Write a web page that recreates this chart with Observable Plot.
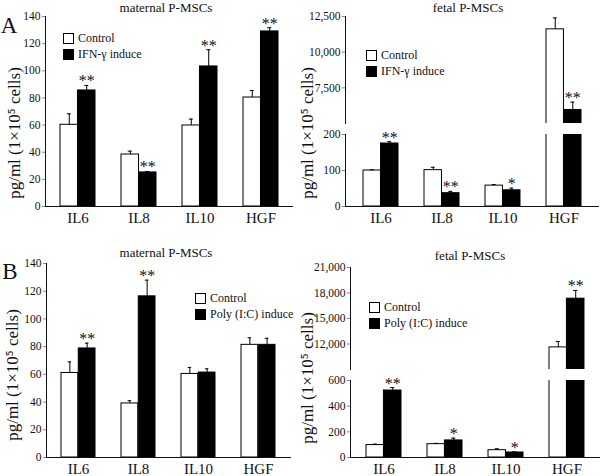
<!DOCTYPE html>
<html>
<head>
<meta charset="utf-8">
<script src="https://cdn.jsdelivr.net/npm/d3@7"></script>
<script src="https://cdn.jsdelivr.net/npm/@observablehq/plot@0.6"></script>
<style>
  html, body { margin: 0; padding: 0; background: white; }
  #fig { position: relative; width: 600px; height: 476px; overflow: hidden; font-family: "Liberation Serif", "Times New Roman", serif; color: #111; }
  #fig svg { position: absolute; font-family: "Liberation Serif", "Times New Roman", serif !important; }
  #fig svg text { font-family: "Liberation Serif", "Times New Roman", serif !important; fill: #111; }
  .lbl { position: absolute; white-space: nowrap; line-height: 1; }
  .ttl { font-size: 13px; transform: translate(-50%, -50%); }
  .letter { font-size: 23px; transform: translate(-50%, -50%); }
  .ylab { font-size: 17px; transform: translate(-50%, -50%) rotate(-90deg); }
  .leg { position: absolute; font-size: 12px; line-height: 1; }
  .leg .row { display: flex; align-items: center; height: 16px; }
  .leg .sw { width: 9px; height: 9px; border: 1px solid #000; margin-right: 4px; box-sizing: content-box; }
  #fig g[aria-label^="x-axis"] text { font-size: 15px; }
  #fig g[aria-label^="y-axis"] text { font-size: 11.5px; }
  [aria-label*="axis"] line, [aria-label*="axis"] path { stroke: #8a8a8a; }
</style>
</head>
<body>
<div id="fig"></div>
<script>
// ---------- data ----------
const categories = ["IL6", "IL8", "IL10", "HGF"];
const groups = ["Control", "Induced"];

// A, maternal P-MSCs (IFN-γ)
const aMatControl    = [60.2, 38.3, 59.7, 80.3];
const aMatControlErr = [8.1, 2.5, 4.7, 5.2];
const aMatInduced    = [85.5, 25.1, 103.2, 129];
const aMatInducedErr = [3.7, 0.7, 12.3, 2.7];
const aMatStars      = ["**", "**", "**", "**"];

// A, fetal P-MSCs (IFN-γ)
const aFetControl    = [100, 101, 58, 11600];
const aFetControlErr = [2, 8, 3, 800];
const aFetInduced    = [175, 37, 45, 5950];
const aFetInducedErr = [5, 5, 6, 550];
const aFetStars      = ["**", "**", "*", "**"];

// B, maternal P-MSCs (Poly I:C)
const bMatControl    = [61, 39, 60.3, 81.3];
const bMatControlErr = [8, 2, 4.7, 5.1];
const bMatInduced    = [78.7, 116.3, 61.3, 81.3];
const bMatInducedErr = [3.8, 11.7, 2.7, 4.7];
const bMatStars      = ["**", "**", "", ""];

// B, fetal P-MSCs (Poly I:C)
const bFetControl    = [97, 104, 57, 11600];
const bFetControlErr = [7, 6, 11, 700];
const bFetInduced    = [522, 133, 39, 17330];
const bFetInducedErr = [23, 18, 5, 970];
const bFetStars      = ["**", "*", "*", "**"];

// axes
const maternalTicks   = [0, 20, 40, 60, 80, 100, 120, 140];
const maternalDomain  = [0, 140];
const aFetUpperDomain = [5000, 12500];
const aFetUpperTicks  = [7500, 10000, 12500];
const aFetLowerDomain = [0, 200];
const aFetLowerTicks  = [0, 100, 200];
const bFetUpperDomain = [9000, 21000];
const bFetUpperTicks  = [12000, 15000, 18000, 21000];
const bFetLowerDomain = [0, 600];
const bFetLowerTicks  = [0, 200, 400, 600];

// ---------- helpers ----------
function makeRows(ctrl, ctrlErr, ind, indErr, stars) {
  return categories.flatMap((c, i) => [
    {cat: c, group: groups[0], value: ctrl[i], top: ctrl[i] + ctrlErr[i], star: ""},
    {cat: c, group: groups[1], value: ind[i], top: ind[i] + indErr[i], star: stars[i]}
  ]);
}

const PI = 0.43;
const SERIF = '"Liberation Serif", "Times New Roman", serif';
function segment(rows, o) {
  const bw = d3.scaleBand(categories, [o.ml, o.width - o.mr]).paddingInner(PI).paddingOuter(o.po).bandwidth();
  const q = bw / 4;
  const [lo, hi] = o.domain;
  const inSeg = v => v >= lo && v <= hi;
  const C = rows.filter(d => d.group === groups[0] && d.value > lo);
  const I = rows.filter(d => d.group === groups[1] && d.value > lo);
  const CE = C.filter(d => inSeg(d.top));
  const IE = I.filter(d => inSeg(d.top));
  const S = IE.filter(d => d.star);
  return Plot.plot({
    width: o.width, height: o.height,
    marginLeft: o.ml, marginRight: o.mr, marginTop: o.mt, marginBottom: o.mb,
    style: {background: "none", fontFamily: SERIF, fontSize: "11.5px", color: "#111", overflow: "visible"},
    x: o.showX
      ? {type: "band", domain: categories, paddingInner: PI, paddingOuter: o.po, tickSize: 0, tickPadding: 6, line: true, label: null}
      : {type: "band", domain: categories, paddingInner: PI, paddingOuter: o.po, axis: null},
    y: {domain: o.domain, ticks: o.ticks, line: true, tickSize: 3, tickPadding: 2, label: null},
    marks: [
      Plot.barY(C, {x: "cat", y: "value", fill: "white", stroke: "black", strokeWidth: 1, insetRight: bw / 2, clip: true}),
      Plot.barY(I, {x: "cat", y: "value", fill: "black", stroke: "black", strokeWidth: 1, insetLeft: bw / 2, clip: true}),
      Plot.ruleX(CE, {x: "cat", y1: "value", y2: "top", dx: -q, stroke: "black"}),
      Plot.ruleX(IE, {x: "cat", y1: "value", y2: "top", dx: q, stroke: "black"}),
      Plot.tickY(CE, {x: "cat", y: "top", insetLeft: q - 2, insetRight: bw - q - 2, stroke: "black"}),
      Plot.tickY(IE, {x: "cat", y: "top", insetLeft: 3 * q - 2, insetRight: q - 2, stroke: "black"}),
      Plot.text(S, {x: "cat", y: "top", text: "star", dx: q, dy: 1, fontSize: 16, fill: "#111", lineAnchor: "bottom"})
    ]
  });
}

const fig = document.getElementById("fig");
function place(svg, left, top) {
  svg.style.left = left + "px";
  svg.style.top = top + "px";
  fig.appendChild(svg);
}
function label(text, cls, x, y) {
  const d = document.createElement("div");
  d.className = "lbl " + cls;
  d.textContent = text;
  d.style.left = x + "px";
  d.style.top = y + "px";
  fig.appendChild(d);
}
function legend(x, y, induceName) {
  const d = document.createElement("div");
  d.className = "leg";
  d.style.left = x + "px";
  d.style.top = y + "px";
  [["white", "Control"], ["black", induceName]].forEach(([c, t]) => {
    const r = document.createElement("div");
    r.className = "row";
    const s = document.createElement("span");
    s.className = "sw";
    s.style.background = c;
    const l = document.createElement("span");
    l.textContent = t;
    r.appendChild(s); r.appendChild(l);
    d.appendChild(r);
  });
  fig.appendChild(d);
}

// ---------- panels ----------
const aMat = makeRows(aMatControl, aMatControlErr, aMatInduced, aMatInducedErr, aMatStars);
const aFet = makeRows(aFetControl, aFetControlErr, aFetInduced, aFetInducedErr, aFetStars);
const bMat = makeRows(bMatControl, bMatControlErr, bMatInduced, bMatInducedErr, bMatStars);
const bFet = makeRows(bFetControl, bFetControlErr, bFetInduced, bFetInducedErr, bFetStars);

// A left
place(segment(aMat, {width: 300, height: 230, ml: 45, mr: 8, mt: 16, mb: 24, po: 0.23, domain: maternalDomain, ticks: maternalTicks, showX: true}), 0, 0);
// A right (broken axis)
place(segment(aFet, {width: 300, height: 230, ml: 45, mr: 2, mt: 16, mb: 107, po: 0.27, domain: aFetUpperDomain, ticks: aFetUpperTicks, showX: false}), 300, 0);
place(segment(aFet, {width: 300, height: 230, ml: 45, mr: 2, mt: 134, mb: 24, po: 0.27, domain: aFetLowerDomain, ticks: aFetLowerTicks, showX: true}), 300, 0);
// B left
place(segment(bMat, {width: 300, height: 240, ml: 46, mr: 10, mt: 27, mb: 19, po: 0.23, domain: maternalDomain, ticks: maternalTicks, showX: true}), 0, 236);
// B right (broken axis)
place(segment(bFet, {width: 300, height: 240, ml: 50, mr: 0, mt: 31, mb: 107, po: 0.26, domain: bFetUpperDomain, ticks: bFetUpperTicks, showX: false}), 300, 236);
place(segment(bFet, {width: 300, height: 240, ml: 50, mr: 0, mt: 144, mb: 19, po: 0.26, domain: bFetLowerDomain, ticks: bFetLowerTicks, showX: true}), 300, 236);

// titles, letters, axis labels, legends
label("maternal P-MSCs", "ttl", 166, 7);
label("fetal P-MSCs", "ttl", 468, 7);
label("maternal P-MSCs", "ttl", 166, 252);
label("fetal P-MSCs", "ttl", 470, 255);
label("A", "letter", 9, 25);
label("B", "letter", 10, 271);
const ytitle = "pg/ml (1×10⁵ cells)";
label(ytitle, "ylab", 14, 133);
label(ytitle, "ylab", 307, 133);
label(ytitle, "ylab", 12, 375);
label(ytitle, "ylab", 307, 378);
legend(63, 30, "IFN-γ induce");
legend(366, 47, "IFN-γ induce");
legend(195, 290, "Poly (I:C) induce");
legend(369, 299, "Poly (I:C) induce");
</script>
</body>
</html>
